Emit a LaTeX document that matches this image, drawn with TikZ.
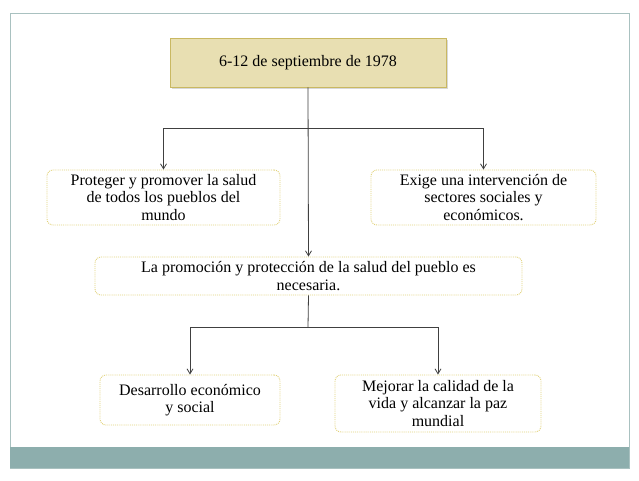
\documentclass[tikz,border=0pt]{standalone}
\usepackage{fontspec}
\setmainfont{Liberation Serif}
\usetikzlibrary{arrows.meta,shadows}
\definecolor{teal1}{HTML}{8DAEAD}
\definecolor{frame1}{HTML}{A9C1C0}
\definecolor{tan1}{HTML}{E8DFB2}
\definecolor{tanb}{HTML}{C9B862}
\definecolor{dashc}{HTML}{E2D27A}
\tikzset{
 dbox/.style={draw=dashc,densely dotted,line width=0.9pt,rounded corners=6pt,fill=white,align=center,inner sep=1pt,font=\fontsize{16}{17.5}\selectfont},
 conn/.style={draw=black!75,line width=0.8pt},
 arr/.style={conn,-{Straight Barb[length=5pt,width=6pt]}}
}
\begin{document}
\begin{tikzpicture}[x=1pt,y=-1pt]
\useasboundingbox (0,0) rectangle (639,480);
\fill[white] (0,0) rectangle (639,480);
\draw[frame1,line width=0.8pt] (10,13) rectangle (629,468);
\fill[teal1] (10,447) rectangle (629,468);
\node[draw=tanb,fill=tan1,line width=0.9pt,drop shadow={opacity=0.3,shadow xshift=1.5pt,shadow yshift=-1.5pt},minimum width=276pt,minimum height=49pt,font=\fontsize{16}{18}\selectfont] (top) at (308,62.5) {6-12 de septiembre de 1978};
\node[dbox,minimum width=233pt,minimum height=55pt] (l) at (163.5,197.5) {Proteger y promover la salud\\ de todos los pueblos del\\ mundo};
\node[dbox,minimum width=225pt,minimum height=55pt] (r) at (483.5,197.5) {Exige una intervención de\\ sectores sociales y\\ económicos.};
\node[dbox,minimum width=427pt,minimum height=38pt] (m) at (308.5,276) {La promoción y protección de la salud del pueblo es\\ necesaria.};
\node[dbox,minimum width=180pt,minimum height=50pt] (bl) at (190,400) {Desarrollo económico\\ y social};
\node[dbox,minimum width=206pt,minimum height=57pt] (br) at (438,403.5) {Mejorar la calidad de la\\ vida y alcanzar la paz\\ mundial};
\coordinate (j1) at (308,128);
\coordinate (j2) at (308,327);
\draw[arr] (top.south) -- (m.north);
\draw[arr] (j1) -| (l.north);
\draw[arr] (j1) -| (r.north);
\draw[conn] (m.south) -- (j2);
\draw[arr] (j2) -| (bl.north);
\draw[arr] (j2) -| (br.north);
\end{tikzpicture}
\end{document}
